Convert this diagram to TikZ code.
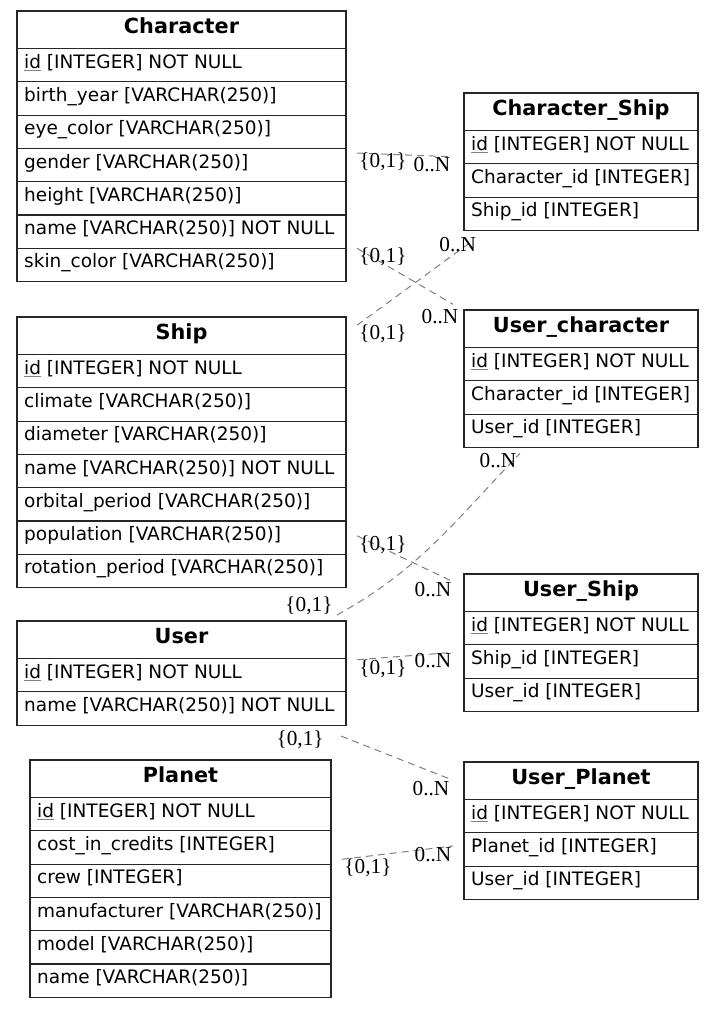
\documentclass[tikz,border=0pt]{standalone}
\usepackage{fontspec}
\setmainfont{DejaVu Sans}
\newfontfamily\cardfont{Liberation Serif}
\usetikzlibrary{calc}
\newcommand{\pk}[1]{\leavevmode\setbox0\hbox{#1}\rlap{\color{gray}\rule[-2.5pt]{\wd0}{0.9pt}}\box0\relax}
% #1 name, #2 left, #3 top, #4 width, #5 rows, #6 title, #7 fields
\newcommand{\erdtable}[7]{%
  \node[tbl, minimum width=#4, minimum height={37.5+33.3*#5}]
    (#1) at ({#2+#4/2}, {-#3-(37.5+33.3*#5)/2}) {};
  \node[tbltitle] (#1-title) at ({#2+#4/2}, {-#3-22}) {#6};
  \foreach \f [count=\k from 0] in {#7} {
    \draw[tblline] (#2, {-#3-37.5-33.3*\k}) -- ++(#4, 0);
    \node[tblfield] (#1-\k) at (#2+7, {-#3-37.5-33.3*\k-19.6}) {\f};
  }
}
\tikzset{
  tbl/.style={draw=black!85, line width=1.1pt, inner sep=0pt, outer sep=11pt},
  tblline/.style={draw=black!85, line width=1.1pt},
  tbltitle/.style={anchor=base, inner sep=0pt, font=\fontsize{20.8}{24}\selectfont\bfseries},
  tblfield/.style={anchor=base west, inner sep=0pt, font=\fontsize{18.5}{22}\selectfont},
  rel/.style={draw=gray, line width=1pt, dash pattern=on 7pt off 5pt},
  lbl/.style={inner sep=0pt, font=\cardfont\fontsize{21.3}{24}\selectfont},
  tailcard/.style={lbl, at start, shift={(26,-8.5)}},
  headcard/.style={lbl, at end, shift={(-20,-8)}}
}

\begin{document}
\begin{tikzpicture}[x=1pt, y=1pt]
  \useasboundingbox[fill=white] (0,0) rectangle (715,-1009);

  \erdtable{character}{17}{11}{329}{7}{Character}{\pk{id} [INTEGER] NOT NULL, birth\_year [VARCHAR(250)], eye\_color [VARCHAR(250)], gender [VARCHAR(250)], height [VARCHAR(250)], name [VARCHAR(250)] NOT NULL, skin\_color [VARCHAR(250)]}
  \erdtable{ship}{17}{317}{329}{7}{Ship}{\pk{id} [INTEGER] NOT NULL, climate [VARCHAR(250)], diameter [VARCHAR(250)], name [VARCHAR(250)] NOT NULL, orbital\_period [VARCHAR(250)], population [VARCHAR(250)], rotation\_period [VARCHAR(250)]}
  \erdtable{user}{17}{621}{329}{2}{User}{\pk{id} [INTEGER] NOT NULL, name [VARCHAR(250)] NOT NULL}
  \erdtable{planet}{30}{760}{301}{6}{Planet}{\pk{id} [INTEGER] NOT NULL, cost\_in\_credits [INTEGER], crew [INTEGER], manufacturer [VARCHAR(250)], model [VARCHAR(250)], name [VARCHAR(250)]}

  \erdtable{charship}{464}{93}{234}{3}{Character\_Ship}{\pk{id} [INTEGER] NOT NULL, Character\_id [INTEGER], Ship\_id [INTEGER]}
  \erdtable{usrchar}{464}{310}{234}{3}{User\_character}{\pk{id} [INTEGER] NOT NULL, Character\_id [INTEGER], User\_id [INTEGER]}
  \erdtable{usrship}{464}{574}{234}{3}{User\_Ship}{\pk{id} [INTEGER] NOT NULL, Ship\_id [INTEGER], User\_id [INTEGER]}
  \erdtable{usrplanet}{464}{762}{234}{3}{User\_Planet}{\pk{id} [INTEGER] NOT NULL, Planet\_id [INTEGER], User\_id [INTEGER]}

  % relations
  \draw[rel] (character) -- node[tailcard] {\{0,1\}} node[lbl, at end, shift={(-21,-7.5)}] {0..N} (charship);
  \draw[rel] (character) -- node[lbl, at start, shift={(26,-9)}] {\{0,1\}} node[lbl, at end, shift={(-13,-12)}] {0..N} (usrchar);
  \draw[rel] (ship) -- node[tailcard] {\{0,1\}} node[lbl, at end, shift={(-14,-3)}] {0..N} (charship);
  \draw[rel] (ship) -- node[tailcard] {\{0,1\}} node[headcard] {0..N} (usrship);
  \draw[rel] ([shift={(-20,-5)}]user.north east) to[out=29, in=226]
    node[lbl, at start, shift={(-28,9)}] {\{0,1\}} node[lbl, at end, shift={(-22,-7)}] {0..N}
    ([shift={(-61,5)}]usrchar.south);
  \draw[rel] (user) -- node[lbl, at start, shift={(26,-9.4)}] {\{0,1\}} node[headcard] {0..N} (usrship);
  \draw[rel] (user) -- node[lbl, at start, shift={(-41,-4)}] {\{0,1\}} node[lbl, at end, shift={(-22,-8.4)}] {0..N} (usrplanet);
  \draw[rel] (planet) -- node[tailcard] {\{0,1\}} node[lbl, at end, shift={(-20,-8.5)}] {0..N} (usrplanet);
\end{tikzpicture}
\end{document}
